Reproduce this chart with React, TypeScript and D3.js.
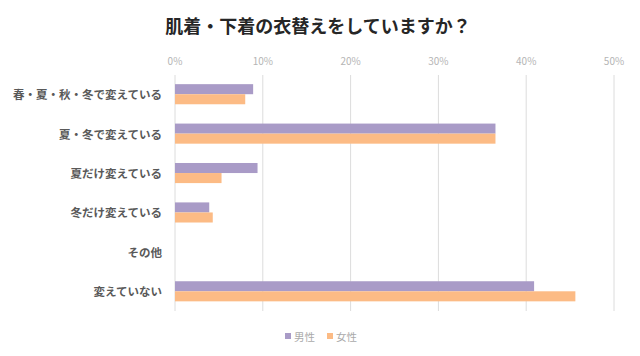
import React from "react";
import * as d3 from "d3";

const categories = [
  "春・夏・秋・冬で変えている",
  "夏・冬で変えている",
  "夏だけ変えている",
  "冬だけ変えている",
  "その他",
  "変えていない",
];
const seriesNames = ["男性", "女性"];
const maleValues = [8.9, 36.5, 9.4, 3.9, 0, 40.9];
const femaleValues = [8.0, 36.5, 5.3, 4.3, 0, 45.6];
const tickValues = [0, 10, 20, 30, 40, 50];
const title = "肌着・下着の衣替えをしていますか？";

const colors = ["#a99bc7", "#fcbb85"];
const FONT = "'Noto Sans CJK JP', 'Noto Sans', sans-serif";

export default function App() {
  const W = 640;
  const H = 356;
  const x = d3.scaleLinear().domain([0, 50]).range([175, 614]);
  const y = d3.scaleBand<string>().domain(categories).range([74.5, 311]).paddingInner(0.49).paddingOuter(0.245);
  const inner = d3.scaleBand<string>().domain(seriesNames).range([0, y.bandwidth()]);
  const series = [maleValues, femaleValues];

  return (
    <svg width={W} height={H} style={{ position: "absolute", left: 0, top: 0, background: "#fff" }} fontFamily={FONT}>
      <rect x={0} y={0} width={W} height={H} fill="#fff" />
      <text x={318} y={25} textAnchor="middle" dominantBaseline="central" fontSize={18} fontWeight="bold" fill="#262626">
        {title}
      </text>
      {tickValues.map((t) => (
        <g key={t}>
          <line x1={x(t)} x2={x(t)} y1={75} y2={311} stroke="#dcdcdc" strokeWidth={1} />
          <text x={x(t)} y={60} textAnchor="middle" dominantBaseline="central" fontSize={10} fill="#b5b5b5">
            {t}%
          </text>
        </g>
      ))}
      {categories.map((c, i) => (
        <g key={c}>
          {series.map((vals, s) => (
            <rect
              key={s}
              x={x(0)}
              y={(y(c) as number) + (inner(seriesNames[s]) as number)}
              width={x(vals[i]) - x(0)}
              height={inner.bandwidth()}
              fill={colors[s]}
            />
          ))}
          <text
            x={162}
            y={(y(c) as number) + y.bandwidth() / 2}
            textAnchor="end"
            dominantBaseline="central"
            fontSize={11.5}
            fontWeight="bold"
            fill="#595959"
          >
            {c}
          </text>
        </g>
      ))}
      {seriesNames.map((n, s) => (
        <g key={n} transform={`translate(${s === 0 ? 285 : 327},336)`}>
          <rect x={0} y={-3} width={6} height={6} fill={colors[s]} />
          <text x={9} y={0} dominantBaseline="central" fontSize={10.5} fill="#aaaaaa">
            {n}
          </text>
        </g>
      ))}
    </svg>
  );
}
